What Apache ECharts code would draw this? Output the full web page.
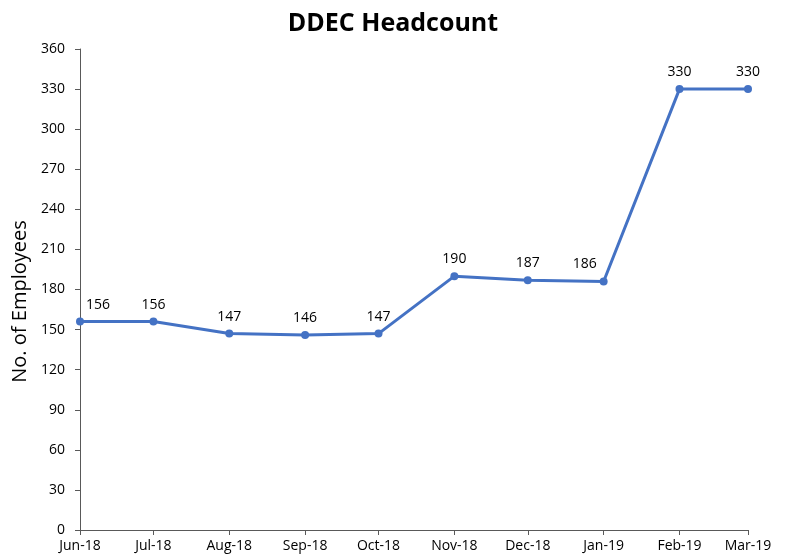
<!DOCTYPE html>
<html>
<head>
<meta charset="utf-8">
<script src="https://cdn.jsdelivr.net/npm/echarts@6/dist/echarts.min.js"></script>
<style>
  html, body { margin: 0; padding: 0; background: #fff; }
  #chart { width: 786px; height: 558px; }
</style>
</head>
<body>
<div id="chart"></div>
<script>
// Month-start dates for each headcount reading
const months = ['2018-06-01', '2018-07-01', '2018-08-01', '2018-09-01', '2018-10-01',
                '2018-11-01', '2018-12-01', '2019-01-01', '2019-02-01', '2019-03-01'];
const monthLabels = ['Jun-18', 'Jul-18', 'Aug-18', 'Sep-18', 'Oct-18',
                     'Nov-18', 'Dec-18', 'Jan-19', 'Feb-19', 'Mar-19'];
const headcount = [156, 156, 147, 146, 147, 190, 187, 186, 330, 330];
const yTicks = [0, 30, 60, 90, 120, 150, 180, 210, 240, 270, 300, 330, 360];

const FONT = 'Open Sans';
const AXIS_COLOR = '#595959';

// Date axis: position each month by its day count from the first reading
const DAY = 86400000;
const toDay = s => {
  const [y, mo, d] = s.split('-').map(Number);
  return Date.UTC(y, mo - 1, d) / DAY;
};
const day0 = toDay(months[0]);
const monthDays = months.map(m => toDay(m) - day0);
const labelFor = {};
monthDays.forEach((d, i) => { labelFor[d] = monthLabels[i]; });

// Nudges for data labels that would otherwise sit on the axis or the line
const labelOffsets = { 0: [18, 0], 7: [-19, 0] };

const chart = echarts.init(document.getElementById('chart'), null, { renderer: 'canvas' });
chart.setOption({
  animation: false,
  backgroundColor: '#fff',
  title: {
    text: 'DDEC Headcount',
    left: 'center',
    top: 6,
    textStyle: { fontFamily: FONT, fontSize: 25, fontWeight: 'bold', color: '#000' }
  },
  grid: { left: 80, right: 38, top: 49, bottom: 28, containLabel: false },
  xAxis: {
    type: 'value',
    min: monthDays[0],
    max: monthDays[monthDays.length - 1],
    splitLine: { show: false },
    axisLine: { show: true, lineStyle: { color: AXIS_COLOR, width: 1 } },
    axisTick: { show: true, length: 5, lineStyle: { color: AXIS_COLOR }, customValues: monthDays },
    axisLabel: {
      customValues: monthDays,
      formatter: v => labelFor[v] || '',
      fontFamily: FONT, fontSize: 14, color: '#000', margin: 9,
      showMinLabel: true, showMaxLabel: true
    }
  },
  yAxis: {
    type: 'value',
    min: yTicks[0],
    max: yTicks[yTicks.length - 1],
    interval: yTicks[1] - yTicks[0],
    name: 'No. of Employees',
    nameLocation: 'middle',
    nameGap: 45,
    nameRotate: 90,
    nameTextStyle: { fontFamily: FONT, fontSize: 20, color: '#000', padding: [0, 24, 0, 0] },
    splitLine: { show: false },
    axisLine: { show: true, lineStyle: { color: AXIS_COLOR, width: 1 } },
    axisTick: { show: true, length: 5, lineStyle: { color: AXIS_COLOR } },
    axisLabel: { fontFamily: FONT, fontSize: 14, color: '#000', margin: 15 }
  },
  series: [{
    type: 'line',
    data: monthDays.map((d, i) => {
      const item = { value: [d, headcount[i]] };
      if (labelOffsets[i]) item.label = { offset: labelOffsets[i] };
      return item;
    }),
    symbol: 'circle',
    symbolSize: 8,
    clip: false,
    lineStyle: { color: '#4472C4', width: 3 },
    itemStyle: { color: '#4472C4' },
    label: {
      show: true,
      position: 'top',
      distance: 6,
      formatter: p => p.value[1],
      fontFamily: FONT, fontSize: 14, color: '#000'
    }
  }]
});
</script>
</body>
</html>
